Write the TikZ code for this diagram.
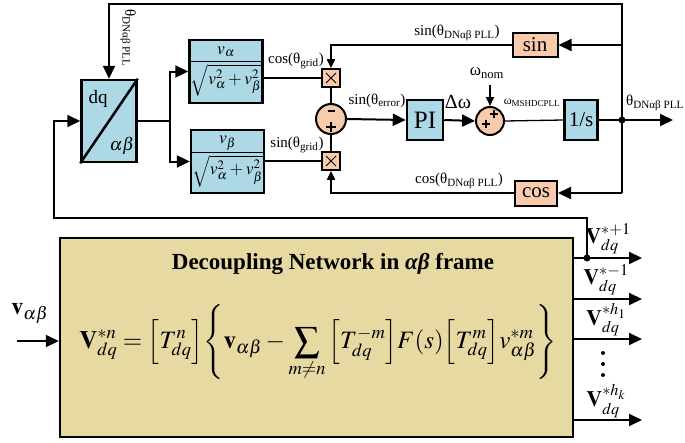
\documentclass[tikz,border=0pt]{standalone}
\usepackage{amsmath}
\usepackage{mathptmx}
\usepackage{fontspec}
\setmainfont{Liberation Serif}
\usetikzlibrary{arrows.meta}
\definecolor{lblue}{RGB}{173,216,230}
\definecolor{peach}{RGB}{248,203,173}
\definecolor{khaki}{RGB}{230,217,162}
\begin{document}
\begin{tikzpicture}[x=1pt,y=-1pt,
 blk/.style={draw,line width=2.5pt,fill=lblue,inner sep=0pt},
 pblk/.style={draw,line width=2pt,fill=peach,inner sep=0pt},
 ln/.style={line width=2pt},
 thn/.style={line width=1.3pt},
 arr/.style={line width=2pt,-{Triangle[length=13pt,width=12pt]}},
 sarr/.style={line width=2pt,-{Triangle[length=9pt,width=8pt]}},
 lab/.style={font=\fontsize{15}{16}\selectfont,inner sep=0pt},
 sgn/.style={line width=1.4pt}
]
\useasboundingbox (0,0) rectangle (685,442);

% dq block
\node[blk,minimum width=55pt,minimum height=82pt] (dq) at (109,121) {};
\draw[line width=2.5pt] (dq.south west) -- (dq.north east);
\node[font=\fontsize{19}{20}\selectfont] (dqt) at (98,99) {dq};
\node[font=\fontsize{18}{20}\selectfont] (abt) at (122,146) {$\alpha\beta$};

% fraction blocks
\node[blk,minimum width=72pt,minimum height=63pt] (fa) at (226,71.5)
  {\fontsize{17.5}{20}\selectfont$\dfrac{v_\alpha}{\sqrt{v_\alpha^2+v_\beta^2}}$};
\node[blk,minimum width=72pt,minimum height=63pt] (fb) at (227.5,161.5)
  {\fontsize{17.5}{20}\selectfont$\dfrac{v_\beta}{\sqrt{v_\alpha^2+v_\beta^2}}$};

% multipliers
\node[pblk,line width=1.8pt,minimum size=18pt] (m1) at (331,78) {};
\node[pblk,line width=1.8pt,minimum size=18pt] (m2) at (331,161) {};
\foreach \m in {m1,m2}{
  \draw[line width=1pt] ([shift={(-5,-5)}]\m.center) -- ([shift={(5,5)}]\m.center);
  \draw[line width=1pt] ([shift={(-5,5)}]\m.center) -- ([shift={(5,-5)}]\m.center);
}

% summers
\node[circle,draw,line width=2pt,fill=peach,minimum size=30pt,inner sep=0pt] (s1) at (331,119) {};
\draw[sgn] (327.5,111) -- (334.5,111);
\draw[sgn] (326,127) -- (336,127) (331,122) -- (331,132);
\node[circle,draw,line width=2pt,fill=peach,minimum size=28pt,inner sep=0pt] (s2) at (490,121) {};
\draw[line width=1.2pt] (490,114) -- (498,114) (494,110) -- (494,118);
\draw[line width=1.2pt] (482,124) -- (490,124) (486,120) -- (486,128);

% PI and integrator
\node[blk,minimum width=36pt,minimum height=40pt,font=\fontsize{25}{25}\selectfont] (pi) at (425,120) {PI};
\node[blk,minimum width=33pt,minimum height=40pt,font=\fontsize{21}{21}\selectfont] (int) at (581,120) {1/s};

% sin / cos blocks
\node[pblk,minimum width=45pt,minimum height=24pt,font=\fontsize{21}{21}\selectfont] (sin) at (535,45) {sin};
\node[pblk,minimum width=42pt,minimum height=25pt,font=\fontsize{21}{21}\selectfont] (cos) at (536,193) {cos};

% junction and output
\coordinate (J) at (622,120);
\coordinate (out) at (673,120);
\coordinate (top) at (622,4);
\coordinate (Js) at (622,45);
\coordinate (Jc) at (622,193);
\draw[ln] (int.east) -- (J);
\draw[arr] (J) -- (out);
\fill (J) circle (3.5pt);
\draw[arr] (J) -- (top) -| (dq.north);
\draw[ln] (J) -- (Jc);
\draw[arr] (Js) -- (sin.east);
\draw[arr] (Jc) -- (cos.east);
\draw[sarr] (sin.west) -| (m1.north);
\draw[sarr] (cos.west) -| (m2.south);

% dq outputs
\coordinate (br) at (170,121);
\draw[ln] (dq.east) -- (br);
\draw[arr] (br) |- (fa.west);
\draw[arr] (br) |- (fb.west);
\draw[thn] (fa.east |- m1.west) -- (m1.west);
\draw[thn] (fb.east |- m2.west) -- (m2.west);
\draw[ln] (m1.south) -- (s1.north);
\draw[ln] (s1.south) -- (m2.north);
\draw[arr] (s1.east) -- (pi.west);
\draw[arr] (pi.east) -- (s2.west);
\draw[thn] (s2.east) -- (int.west);
\coordinate (wn) at (490,85);
\draw[sarr] (wn) -- (s2.north);

% labels
\node[lab,rotate=-90] (lth) at (128,38) {θ\textsubscript{DNαβ PLL}};
\node[lab] (lcg) at (296,61) {cos(θ\textsubscript{grid})};
\node[lab] (lsg) at (297,145) {sin(θ\textsubscript{grid})};
\node[lab] (lse) at (377,101) {sin(θ\textsubscript{error})};
\node[lab] (lsp) at (457,33) {sin(θ\textsubscript{DNαβ PLL})};
\node[lab] (lcp) at (459,181) {cos(θ\textsubscript{DNαβ PLL})};
\node[lab] (lto) at (655,103) {θ\textsubscript{DNαβ PLL}};
\node[font=\fontsize{20}{20}\selectfont,inner sep=0pt] (ldw) at (458,102) {Δω};
\node[font=\fontsize{17}{17}\selectfont,inner sep=0pt] (lwn) at (487,73) {ω\textsubscript{nom}};
\node[font=\fontsize{12}{12}\selectfont,inner sep=0pt] (lwm) at (532,103) {ω\textsubscript{MSHDCPLL}};

% decoupling network
\node[draw,line width=2.5pt,fill=khaki,minimum width=513pt,minimum height=199pt,inner sep=0pt] (dn) at (316.5,337.5) {};
\node[font=\bfseries\fontsize{23}{25}\selectfont,inner sep=0pt] (ttl) at (333,264) {Decoupling Network in \itshape αβ\upshape{} frame};
\node[inner sep=0pt,font=\fontsize{25}{30}\selectfont] (eq) at (318,343)
 {$\displaystyle\mathbf{V}_{dq}^{*n}=\Big[T_{dq}^{n}\Big]\Bigg\{\mathbf{v}_{\alpha\beta}-\sum_{m\neq n}\Big[T_{dq}^{-m}\Big]F(s)\Big[T_{dq}^{m}\Big]v_{\alpha\beta}^{*m}\Bigg\}$};

% input
\coordinate (vin) at (17,341);
\draw[arr] (vin) -- (vin -| dn.west);
\node[font=\fontsize{24}{24}\selectfont,inner sep=0pt] (lvin) at (30,313) {$\mathbf{v}_{\alpha\beta}$};

% outputs
\coordinate (o1) at (573,258);
\coordinate (o1e) at (642,258);
\coordinate (o2) at (573,299);
\coordinate (o2e) at (642,299);
\coordinate (o3) at (573,339);
\coordinate (o3e) at (642,339);
\coordinate (o4) at (573,420);
\coordinate (o4e) at (642,420);
\draw[arr] (o1) -- (o1e);
\draw[arr] (o2) -- (o2e);
\draw[arr] (o3) -- (o3e);
\draw[arr] (o4) -- (o4e);
\coordinate (oj) at (587,258);
\coordinate (lp1) at (587,218);
\coordinate (lp2) at (54,218);
\coordinate (lp3) at (54,121);
\draw[arr] (oj) -- (lp1) -- (lp2) -- (lp3) -- (dq.west);
\fill (oj) circle (3.5pt);
\node[font=\fontsize{22}{22}\selectfont,inner sep=0pt] (lo1) at (608,239) {$\mathbf{V}_{dq}^{*+1}$};
\node[font=\fontsize{22}{22}\selectfont,inner sep=0pt] (lo2) at (606,280) {$\mathbf{V}_{dq}^{*-1}$};
\node[font=\fontsize{22}{22}\selectfont,inner sep=0pt] (lo3) at (606,320) {$\mathbf{V}_{dq}^{*h_1}$};
\node[font=\fontsize{22}{22}\selectfont,inner sep=0pt] (lo4) at (606,401) {$\mathbf{V}_{dq}^{*h_k}$};
\foreach \yy in {353,364,375}{\fill (603,\yy) circle (2pt);}
\end{tikzpicture}
\end{document}
